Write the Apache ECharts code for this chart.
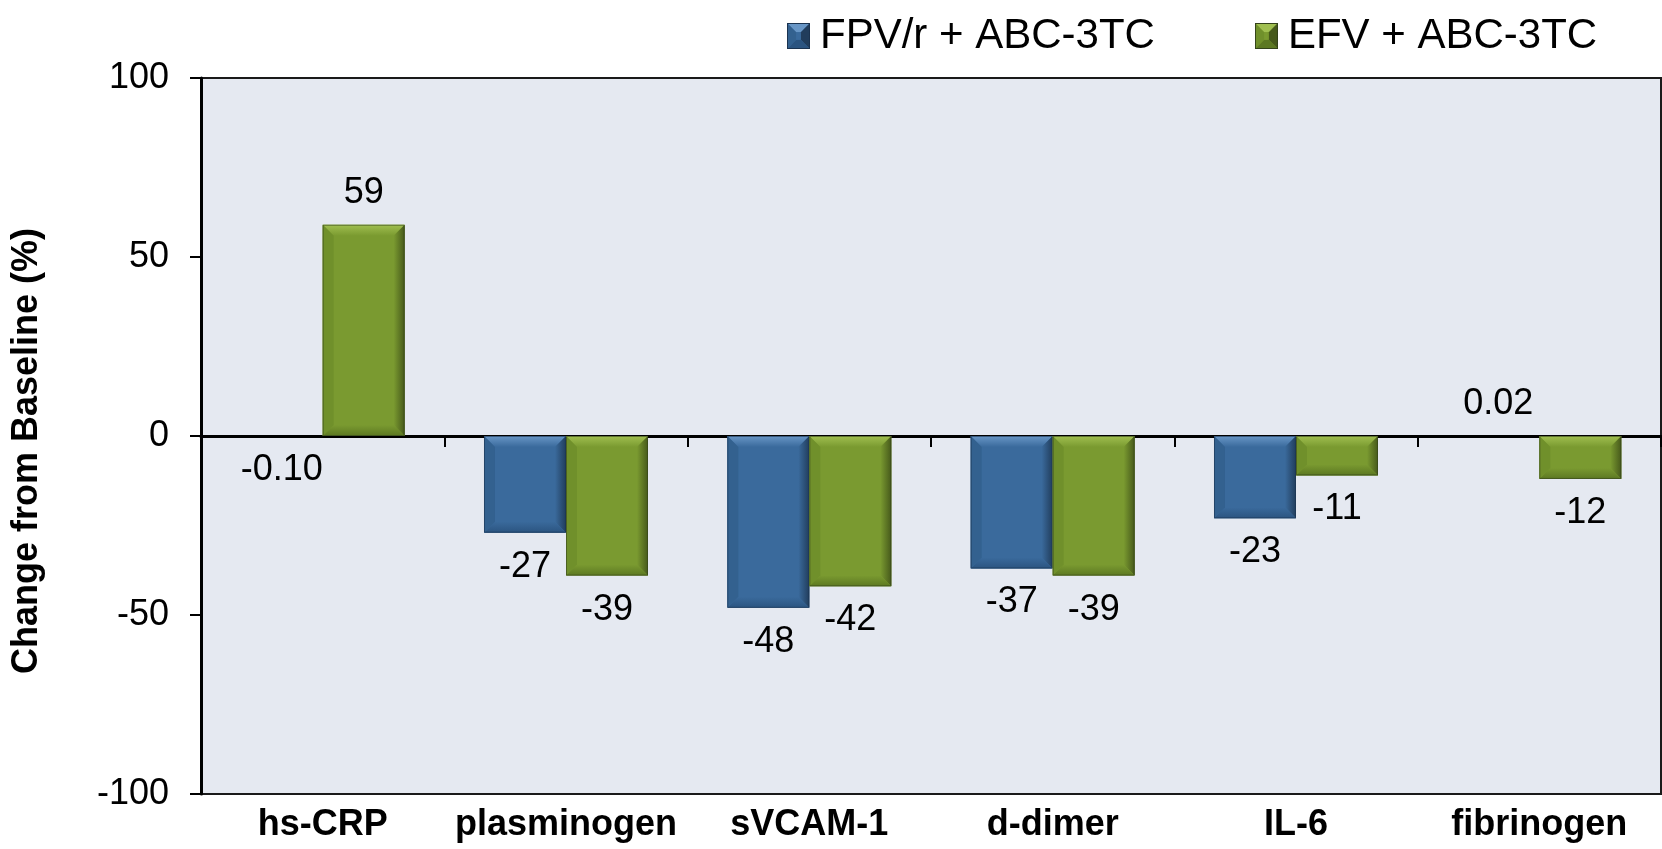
<!DOCTYPE html>
<html>
<head>
<meta charset="utf-8">
<title>Change from Baseline</title>
<script src="https://cdn.jsdelivr.net/npm/echarts@6/dist/echarts.min.js"></script>
<style>
  html, body { margin: 0; padding: 0; background: #ffffff; }
  #chart { width: 1662px; height: 849px; }
</style>
</head>
<body>
<div id="chart"></div>
<script>
// Biomarkers on the category axis
const categories = ['hs-CRP', 'plasminogen', 'sVCAM-1', 'd-dimer', 'IL-6', 'fibrinogen'];

// Percent change from baseline per treatment arm
const seriesNames = ['FPV/r + ABC-3TC', 'EFV + ABC-3TC'];
const fpvValues = [-0.10, -27, -48, -37, -23, 0.02];
const efvValues = [59, -39, -42, -39, -11, -12];

// Value axis ticks
const yTicks = [-100, -50, 0, 50, 100];

// Bevel palettes: face, top, right, bottom, left
const palettes = [
  { face: '#3A6A9C', top: '#6896C6', right: '#213D5C', bottom: '#2B5480', left: '#33618F', edge: '#1B3350' },
  { face: '#7A9A30', top: '#A0BF50', right: '#46591B', bottom: '#5C7822', left: '#70902B', edge: '#33421A' }
];

const FONT = '"Liberation Sans", Arial, Helvetica, sans-serif';

function fmt(v) {
  return Math.abs(v) < 1 ? v.toFixed(2) : String(v);
}

// Small beveled swatch for the legend, drawn on an offscreen canvas
function bevelIcon(p, w, h) {
  const c = document.createElement('canvas');
  c.width = w; c.height = h;
  const g = c.getContext('2d');
  const cx = w / 2, cy = h / 2, b = Math.min(w, h) * 0.4;
  function poly(pts, color) {
    g.beginPath();
    g.moveTo(pts[0][0], pts[0][1]);
    for (let i = 1; i < pts.length; i++) g.lineTo(pts[i][0], pts[i][1]);
    g.closePath();
    g.fillStyle = color;
    g.fill();
  }
  g.fillStyle = p.face;
  g.fillRect(0, 0, w, h);
  poly([[0, 0], [w, 0], [w - b, b], [b, b]], p.top);
  poly([[w, 0], [w, h], [w - b, h - b], [w - b, b]], p.right);
  poly([[0, h], [w, h], [w - b, h - b], [b, h - b]], p.bottom);
  poly([[0, 0], [b, b], [b, h - b], [0, h]], p.left);
  g.fillStyle = p.face;
  g.fillRect(b, b, Math.max(w - 2 * b, 1), Math.max(h - 2 * b, 1));
  g.strokeStyle = p.edge;
  g.lineWidth = 1;
  g.strokeRect(0.5, 0.5, w - 1, h - 1);
  return 'image://' + c.toDataURL('image/png');
}

// Draws one beveled bar per data item; position comes from the axes' scales
function makeRenderItem(seriesPos) {
  return function (params, api) {
    const idx = api.value(0);
    const v = api.value(1);
    const band = api.size([1, 0])[0];
    const bw = band * 0.337;
    const base = api.coord([idx, 0]);
    const end = api.coord([idx, v]);
    const x = base[0] - bw + seriesPos * bw;
    const y = Math.min(base[1], end[1]);
    const h = Math.abs(base[1] - end[1]);
    const w = bw;
    const p = palettes[seriesPos];
    const b = Math.min(11, h / 2, w / 2);
    const children = [];
    if (h > 0.8) {
      children.push({ type: 'rect', shape: { x: x, y: y, width: w, height: h }, style: { fill: p.face } });
      children.push({ type: 'polygon', shape: { points: [[x, y], [x + w, y], [x + w - b, y + b], [x + b, y + b]] },
        style: { fill: {
          type: 'linear', x: 0, y: 0, x2: 0, y2: 1,
          colorStops: [{ offset: 0, color: p.top }, { offset: 1, color: p.face }]
        } } });
      children.push({ type: 'polygon', shape: { points: [[x + w, y], [x + w, y + h], [x + w - b, y + h - b], [x + w - b, y + b]] },
        style: { fill: {
          type: 'linear', x: 1, y: 0, x2: 0, y2: 0,
          colorStops: [{ offset: 0, color: p.right }, { offset: 1, color: p.face }]
        } } });
      children.push({ type: 'polygon', shape: { points: [[x, y + h], [x + w, y + h], [x + w - b, y + h - b], [x + b, y + h - b]] },
        style: { fill: {
          type: 'linear', x: 0, y: 1, x2: 0, y2: 0,
          colorStops: [{ offset: 0, color: p.bottom }, { offset: 1, color: p.face }]
        } } });
      children.push({ type: 'polygon', shape: { points: [[x, y], [x + b, y + b], [x + b, y + h - b], [x, y + h]] },
        style: { fill: p.left } });
      children.push({ type: 'rect', shape: { x: x + 0.5, y: y + 0.5, width: w - 1, height: h - 1 },
        style: { fill: null, stroke: p.edge, lineWidth: 1, opacity: 0.6 } });
    }
    const cx = x + w / 2;
    const up = v >= 0.01;
    children.push({
      type: 'text',
      x: cx,
      y: up ? Math.min(base[1], end[1]) - 14 : Math.max(base[1], end[1]) + 16,
      style: {
        text: fmt(v),
        fill: '#000',
        font: '36px ' + FONT,
        align: 'center',
        verticalAlign: up ? 'bottom' : 'top'
      }
    });
    return { type: 'group', children: children };
  };
}

function toData(values) {
  return values.map(function (v, i) { return [i, v]; });
}

const chart = echarts.init(document.getElementById('chart'), null, { renderer: 'canvas' });

chart.setOption({
  backgroundColor: '#ffffff',
  animation: false,
  textStyle: { fontFamily: FONT, color: '#000' },
  legend: {
    left: 782,
    top: 10,
    itemWidth: 23,
    itemHeight: 26,
    itemGap: 100,
    textStyle: { fontSize: 42, color: '#000', fontFamily: FONT, padding: [0, 0, 0, 5] },
    data: [
      { name: seriesNames[0], icon: bevelIcon(palettes[0], 23, 26) },
      { name: seriesNames[1], icon: bevelIcon(palettes[1], 23, 26) }
    ]
  },
  grid: {
    left: 201,
    right: 1,
    top: 78,
    bottom: 55,
    show: true,
    backgroundColor: '#E5E9F1',
    borderColor: '#1a1a1a',
    borderWidth: 2
  },
  xAxis: [
    {
      type: 'category',
      data: categories,
      position: 'bottom',
      axisLine: { show: false, onZero: false },
      axisTick: { show: false },
      axisLabel: {
        interval: 0,
        margin: 13,
        fontSize: 36,
        fontWeight: 'bold',
        color: '#000',
        fontFamily: FONT
      },
      splitLine: { show: false }
    },
    {
      type: 'category',
      data: categories,
      position: 'top',
      axisLine: { show: true, onZero: true, lineStyle: { color: '#000', width: 3 } },
      axisTick: { show: true, inside: true, interval: 0, length: 11, lineStyle: { color: '#000', width: 2 } },
      axisLabel: { show: false },
      splitLine: { show: false }
    }
  ],
  yAxis: {
    type: 'value',
    min: yTicks[0],
    max: yTicks[yTicks.length - 1],
    interval: yTicks[1] - yTicks[0],
    name: 'Change from Baseline (%)',
    nameLocation: 'middle',
    nameRotate: 90,
    nameGap: 156,
    nameTextStyle: {
      fontSize: 36,
      fontWeight: 'bold',
      color: '#000',
      fontFamily: FONT,
      padding: [0, 30, 0, 0]
    },
    axisLine: { show: true, onZero: false, lineStyle: { color: '#000', width: 3 } },
    axisTick: { show: true, length: 11, lineStyle: { color: '#000', width: 2 } },
    axisLabel: {
      margin: 32,
      fontSize: 36,
      color: '#000',
      fontFamily: FONT,
      formatter: function (v) { return String(v); }
    },
    splitLine: { show: false }
  },
  series: [
    {
      name: seriesNames[0],
      type: 'custom',
      xAxisIndex: 0,
      itemStyle: { color: palettes[0].face },
      encode: { x: 0, y: 1 },
      renderItem: makeRenderItem(0),
      data: toData(fpvValues),
      z: 3
    },
    {
      name: seriesNames[1],
      type: 'custom',
      xAxisIndex: 0,
      itemStyle: { color: palettes[1].face },
      encode: { x: 0, y: 1 },
      renderItem: makeRenderItem(1),
      data: toData(efvValues),
      z: 3
    }
  ]
});
</script>
</body>
</html>
